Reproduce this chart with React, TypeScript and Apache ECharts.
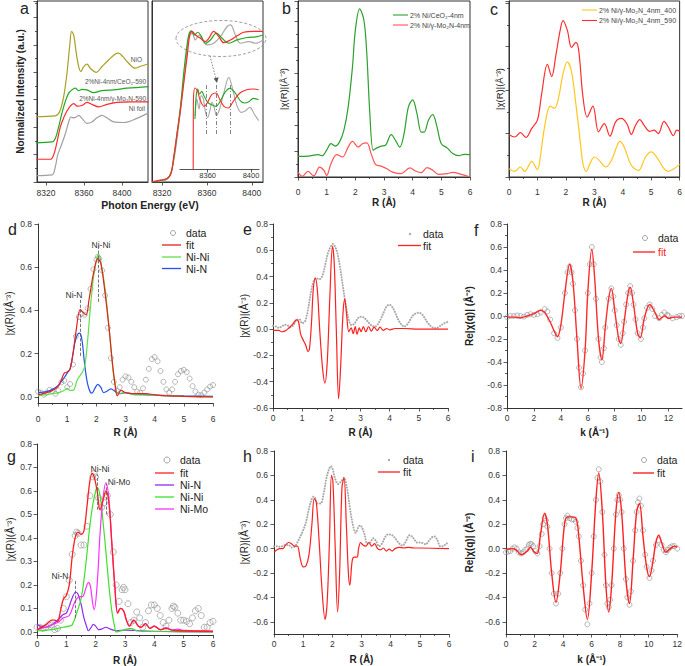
import React, { useEffect, useRef } from "react";
import * as echarts from "echarts";

const FONT = '"Liberation Sans", Arial, Helvetica, sans-serif';

// ---------- Panel a (XANES), left: energy (eV) vs normalized intensity (offset units)
const aNiO = [[8309.5,2.38],[8329.8,2.41],[8334.4,2.57],[8338.6,3.11],[8342.1,3.97],[8344.9,4.94],[8347,5.49],[8349.2,5.36],[8351.9,4.7],[8354.4,4.21],[8356.8,4.03],[8359.7,4.21],[8363.2,4.3],[8366.7,4.15],[8373,4.0],[8379,4.21],[8386,4.45],[8393,4.67],[8396.5,4.7],[8401,4.57],[8407,4.33],[8414,4.15],[8419,4.21],[8428,4.31]];
const aCeO2 = [[8309.5,1.43],[8326.3,1.46],[8329.8,1.59],[8333.4,2.02],[8336.8,2.51],[8340.3,2.93],[8343.9,3.24],[8347.4,3.36],[8350.8,3.42],[8354.4,3.33],[8357.9,3.38],[8363.2,3.36],[8370.2,3.26],[8379,3.33],[8391.3,3.36],[8405.3,3.42],[8428,3.48]];
const aMo2N = [[8309.5,0.83],[8324.5,0.83],[8328.1,0.99],[8331.6,1.46],[8335.1,2.01],[8338.6,2.34],[8342.1,2.59],[8345.6,2.77],[8349.2,2.86],[8352.6,2.77],[8357.9,2.79],[8363.2,2.9],[8368.4,2.83],[8375.5,2.74],[8384.2,2.83],[8394.7,2.9],[8408.7,2.92],[8428,2.92]];
const aFoil = [[8309.5,0.23],[8326.3,0.26],[8329.8,0.55],[8332.3,0.99],[8335.8,1.31],[8340.3,1.75],[8343.9,2.19],[8346.3,2.37],[8349.2,2.34],[8351.9,2.37],[8354.4,2.43],[8357.9,2.32],[8363.2,2.14],[8368.4,2.19],[8373.7,2.34],[8379,2.43],[8384.2,2.34],[8391.3,2.19],[8401.8,2.17],[8415.8,2.32],[8428,2.52]];
// Panel a, right: edge region
const aRCeO2 = [[8311,0.01],[8324.5,0.13],[8328,0.32],[8330.4,0.86],[8333.4,1.78],[8336.4,2.75],[8339.3,3.97],[8341.7,4.82],[8343.8,5.36],[8345.9,5.51],[8348.8,5.36],[8351.8,5.46],[8354.8,5.33],[8358.7,5.06],[8363.1,5.18],[8368.5,5.43],[8373.5,5.24],[8379.5,5.06],[8386.9,5.18],[8395.8,5.27],[8404.8,5.3],[8410,5.36]];
const aRMo2N = [[8311,0.01],[8318.5,0.07],[8324.5,0.13],[8328,0.32],[8330.4,0.92],[8333.4,1.78],[8336.4,2.63],[8339.3,3.6],[8342.3,4.57],[8344.7,5.36],[8346.8,5.49],[8349.7,5.36],[8354.2,5.24],[8358.7,5.12],[8361.6,5.24],[8366.1,5.49],[8370.6,5.3],[8375,5.08],[8381,5.18],[8386.9,5.33],[8392.9,5.46],[8401.8,5.49],[8410,5.49]];
const aRFoil = [[8311,0.01],[8324.5,0.1],[8330.4,0.8],[8336.4,2.63],[8340.8,4.21],[8343.8,5.24],[8346.8,5.43],[8349.7,5.18],[8352.9,5.36],[8355.9,5.18],[8360.4,5.0],[8366.1,5.06],[8372,5.3],[8378,5.67],[8381,5.73],[8385.4,5.36],[8389.9,5.06],[8397.3,5.12],[8403.3,5.06],[8410,5.18]];
// Panel a, inset (magnified oscillations)
const insetMo2N = [[8346.6,0],[8346.8,2.0],[8348.3,2.43],[8350.4,2.36],[8352.9,2.08],[8356.6,1.88],[8359.6,1.98],[8363.7,2.23],[8367.6,2.28],[8371.3,2.08],[8375,1.88],[8379,1.83],[8383.6,2.03],[8389.8,2.28],[8396,2.38],[8402.1,2.4],[8407.1,2.38]];
const insetCeO2 = [[8348.2,1.5],[8349.4,2.2],[8350.8,2.4],[8352.5,2.25],[8354.5,2.33],[8356.5,2.2],[8360,2.0],[8364,1.92],[8367.6,1.88],[8371,2.0],[8376,2.3],[8380.5,2.42],[8385,2.3],[8390,2.05],[8394,1.98],[8398,2.02],[8402,2.12],[8407,2.08]];
const insetFoil = [[8348.5,1.6],[8350,2.1],[8352,1.8],[8354,2.2],[8356,2.1],[8358,1.7],[8360,1.55],[8362,1.75],[8364,2.0],[8366,1.85],[8368,1.6],[8371,1.8],[8375,2.3],[8379.5,2.75],[8383,2.4],[8387,1.9],[8391,1.7],[8395,1.75],[8399,1.85],[8403,1.65],[8407,1.45]];
const insetMarks = [8358.7, 8367.6, 8380.6];
const aTicks = [8320, 8360, 8400];
const insetTicks = [8360, 8400];

// ---------- Panel b
const bCeO2 = [[0,0.79],[0.35,0.8],[0.7,0.86],[0.85,0.82],[1.0,1.03],[1.15,1.28],[1.3,1.19],[1.45,1.35],[1.6,1.79],[1.75,2.69],[1.9,4.23],[2.0,5.64],[2.15,6.47],[2.3,6.03],[2.4,4.74],[2.5,2.56],[2.62,1.03],[2.7,1.09],[2.9,1.19],[3.05,1.22],[3.25,1.63],[3.4,1.41],[3.55,1.15],[3.7,1.67],[3.85,2.69],[4.0,2.97],[4.15,2.44],[4.3,1.73],[4.4,1.73],[4.55,2.18],[4.7,2.4],[4.85,1.92],[5.0,1.28],[5.2,1.12],[5.4,0.9],[5.6,0.82],[5.8,0.87],[6.0,0.86]];
const bMo2N = [[0,0.19],[0.15,0.03],[0.35,0.22],[0.55,0.04],[0.75,0.38],[0.9,0.26],[1.0,0.06],[1.15,0.51],[1.35,0.86],[1.55,0.77],[1.75,1.15],[1.9,1.37],[2.1,1.15],[2.25,1.28],[2.4,1.31],[2.55,0.9],[2.7,0.49],[2.9,0.42],[3.1,0.32],[3.3,0.19],[3.6,0.13],[3.9,0.35],[4.1,0.23],[4.3,0.17],[4.5,0.36],[4.7,0.26],[4.9,0.1],[5.2,0.13],[5.4,0.18],[5.7,0.1],[6.0,0.0]];

// ---------- Panel c
const c400 = [[0,0.19],[0.2,0.13],[0.4,0.23],[0.55,0.13],[0.8,0.36],[1.0,0.17],[1.1,0.46],[1.25,1.15],[1.45,1.63],[1.6,1.58],[1.75,1.85],[1.9,2.38],[2.05,2.65],[2.2,2.42],[2.35,1.69],[2.5,0.85],[2.6,0.31],[2.72,0.13],[2.85,0.31],[3.0,0.46],[3.15,0.4],[3.4,0.23],[3.6,0.38],[3.8,0.72],[3.9,0.82],[4.05,0.69],[4.3,0.27],[4.55,0.15],[4.8,0.46],[5.0,0.58],[5.2,0.45],[5.45,0.19],[5.6,0.13],[5.8,0.19],[6.0,0.29]];
const c590 = [[0,0.98],[0.2,0.92],[0.4,1.02],[0.6,0.91],[0.8,1.12],[1.0,1.31],[1.15,1.92],[1.35,2.59],[1.5,2.31],[1.65,2.81],[1.8,3.38],[1.9,3.6],[2.05,3.38],[2.2,2.98],[2.35,3.1],[2.45,2.92],[2.6,1.85],[2.75,1.38],[2.95,1.63],[3.15,1.04],[3.35,1.23],[3.55,0.94],[3.75,1.27],[3.95,1.35],[4.15,1.22],[4.3,0.98],[4.45,1.19],[4.6,1.32],[4.75,1.19],[4.95,1.05],[5.1,1.08],[5.25,1.0],[5.45,1.28],[5.6,1.15],[5.78,0.95],[5.9,1.08],[6.0,1.05]];

// ---------- Panels d, e (Ni/CeO2)
const ceo2DataR = [[0,0.025],[0.1,0.02],[0.2,0.01],[0.3,0.02],[0.4,0.033],[0.5,0.028],[0.6,0.015],[0.7,0.03],[0.8,0.068],[0.9,0.075],[1.0,0.045],[1.1,0.06],[1.2,0.15],[1.3,0.28],[1.4,0.37],[1.5,0.385],[1.6,0.38],[1.7,0.41],[1.8,0.5],[1.9,0.59],[2.0,0.635],[2.05,0.648],[2.1,0.64],[2.2,0.585],[2.3,0.47],[2.4,0.32],[2.5,0.18],[2.6,0.07],[2.7,0.03],[2.8,0.045],[2.9,0.08],[3.0,0.095],[3.1,0.09],[3.2,0.07],[3.3,0.045],[3.4,0.025],[3.5,0.02],[3.6,0.04],[3.7,0.08],[3.8,0.13],[3.9,0.175],[4.0,0.185],[4.1,0.165],[4.2,0.12],[4.3,0.07],[4.4,0.035],[4.5,0.02],[4.6,0.035],[4.7,0.07],[4.8,0.105],[4.9,0.12],[5.0,0.125],[5.1,0.115],[5.2,0.085],[5.3,0.05],[5.4,0.025],[5.5,0.01],[5.6,0.008],[5.7,0.02],[5.8,0.035],[5.9,0.048],[6.0,0.055]];
const ceo2FitR = [[0,0.01],[0.3,0.02],[0.5,0.03],[0.7,0.05],[0.9,0.11],[1.0,0.115],[1.1,0.13],[1.2,0.2],[1.3,0.3],[1.45,0.405],[1.55,0.39],[1.65,0.38],[1.75,0.45],[1.9,0.57],[2.05,0.64],[2.15,0.62],[2.3,0.48],[2.45,0.3],[2.55,0.16],[2.65,0.05],[2.72,0.005],[2.85,0.03],[3.0,0.02],[3.2,0.015],[3.5,0.015],[3.7,0.015],[4.0,0.01],[4.5,0.005],[5.0,0.003],[6.0,0]];
const ceo2NiNi = [[0,0.005],[0.5,0.015],[0.7,0.02],[0.9,0.03],[1.0,0.04],[1.1,0.03],[1.2,0.03],[1.35,0.08],[1.5,0.11],[1.6,0.14],[1.7,0.26],[1.8,0.42],[1.9,0.55],[2.0,0.63],[2.07,0.66],[2.15,0.63],[2.3,0.5],[2.45,0.3],[2.55,0.15],[2.65,0.05],[2.75,0.015],[3.0,0.02],[3.3,0.01],[3.6,0.01],[4.0,0.008],[5.0,0.003],[6.0,0]];
const ceo2NiN = [[0,0.02],[0.3,0.025],[0.5,0.035],[0.7,0.055],[0.9,0.09],[1.0,0.11],[1.1,0.13],[1.2,0.2],[1.3,0.27],[1.42,0.295],[1.5,0.27],[1.6,0.15],[1.7,0.06],[1.8,0.02],[1.85,0.018],[1.95,0.04],[2.05,0.058],[2.15,0.045],[2.25,0.02],[2.35,0.025],[2.5,0.037],[2.65,0.025],[2.8,0.015],[3.0,0.02],[3.2,0.015],[3.5,0.012],[4.0,0.008],[5.0,0.005],[6.0,0.003]];
const ceo2FitReR = [[0,-0.01],[0.2,-0.01],[0.3,-0.02],[0.4,-0.015],[0.5,0],[0.6,0.02],[0.7,0.045],[0.8,0.07],[0.87,0.06],[0.95,-0.04],[1.05,-0.09],[1.12,-0.12],[1.2,-0.17],[1.25,-0.15],[1.32,0.05],[1.38,0.3],[1.45,0.39],[1.52,0.3],[1.6,0.0],[1.7,-0.3],[1.78,-0.41],[1.86,-0.25],[1.95,0.25],[2.04,0.63],[2.1,0.5],[2.17,0.0],[2.25,-0.53],[2.32,-0.28],[2.4,0.12],[2.46,0.23],[2.52,0.12],[2.6,-0.02],[2.68,0.01],[2.75,-0.035],[2.82,0.02],[2.88,-0.04],[2.96,0.01],[3.02,-0.02],[3.1,0.02],[3.18,-0.02],[3.28,0.02],[3.37,-0.015],[3.47,0.015],[3.57,-0.01],[3.67,0.015],[3.78,-0.01],[3.9,0.005],[4.0,-0.005],[4.2,0.005],[4.5,0.005],[5.0,0],[6.0,0]];
// Panel f
const ceo2DataK = [[0,-0.01],[0.25,0],[0.5,0],[0.75,0.005],[1,0],[1.25,-0.005],[1.5,0.01],[1.75,0.015],[2,0.01],[2.25,0.015],[2.5,0.03],[2.8,0.06],[3.0,0.04],[3.2,-0.03],[3.5,-0.15],[3.75,-0.19],[4.0,-0.1],[4.3,0.2],[4.5,0.38],[4.65,0.43],[4.8,0.38],[4.9,0.28],[5.05,0.05],[5.2,-0.2],[5.35,-0.45],[5.5,-0.62],[5.65,-0.5],[5.8,-0.3],[6.0,0.2],[6.15,0.45],[6.3,0.6],[6.45,0.45],[6.6,0.15],[6.8,-0.2],[6.95,-0.36],[7.05,-0.4],[7.2,-0.28],[7.3,-0.1],[7.55,0.15],[7.75,0.24],[7.9,0.17],[8.0,0.05],[8.15,-0.08],[8.3,-0.2],[8.45,-0.25],[8.6,-0.15],[8.7,-0.05],[8.85,0.1],[9.0,0.2],[9.15,0.26],[9.3,0.2],[9.4,0.1],[9.55,-0.03],[9.7,-0.15],[9.95,-0.2],[10.1,-0.1],[10.2,-0.02],[10.4,0.07],[10.6,0.1],[10.8,0.06],[11.0,0],[11.3,-0.02],[11.5,0.01],[11.7,0.03],[11.9,0.01],[12.0,0],[12.3,-0.02],[12.6,-0.01],[12.8,0],[13,0]];
const ceo2FitK = [[0,-0.01],[0.5,-0.01],[1,-0.015],[1.5,0],[2,0.02],[2.5,0.05],[2.8,0.03],[3.2,-0.05],[3.5,-0.13],[3.75,-0.18],[4.0,-0.08],[4.3,0.2],[4.65,0.45],[4.9,0.3],[5.2,-0.2],[5.5,-0.63],[5.8,-0.3],[6.0,0.2],[6.3,0.58],[6.5,0.35],[6.8,-0.2],[7.05,-0.38],[7.3,-0.1],[7.55,0.15],[7.75,0.24],[8.0,0.05],[8.3,-0.2],[8.45,-0.24],[8.7,-0.05],[9.0,0.2],[9.15,0.25],[9.4,0.1],[9.7,-0.15],[9.9,-0.19],[10.2,-0.02],[10.6,0.1],[11.0,0.03],[11.3,-0.03],[11.7,0],[12.0,-0.02],[12.4,-0.01],[13,-0.01]];

// ---------- Panels g, h, i (Ni/γ-Mo2N)
const mo2nDataR = [[0,0.02],[0.1,0.02],[0.2,0.015],[0.3,0.02],[0.4,0.03],[0.5,0.03],[0.6,0.01],[0.7,0.015],[0.8,0.05],[0.9,0.1],[1.0,0.15],[1.1,0.22],[1.2,0.33],[1.3,0.41],[1.35,0.425],[1.4,0.42],[1.5,0.37],[1.6,0.37],[1.7,0.45],[1.8,0.58],[1.9,0.66],[1.95,0.675],[2.0,0.66],[2.1,0.57],[2.2,0.53],[2.3,0.55],[2.4,0.58],[2.5,0.5],[2.6,0.34],[2.7,0.2],[2.8,0.13],[2.9,0.18],[2.95,0.19],[3.0,0.18],[3.1,0.12],[3.2,0.04],[3.3,0.05],[3.4,0.085],[3.5,0.06],[3.6,0.02],[3.7,0.04],[3.8,0.09],[3.9,0.115],[4.0,0.115],[4.1,0.1],[4.2,0.07],[4.3,0.04],[4.4,0.025],[4.5,0.05],[4.6,0.1],[4.65,0.11],[4.7,0.105],[4.8,0.08],[4.9,0.05],[5.0,0.05],[5.1,0.045],[5.2,0.035],[5.3,0.06],[5.4,0.09],[5.5,0.1],[5.6,0.07],[5.7,0.02],[5.8,0.02],[5.9,0.04],[6.0,0.045]];
const mo2nFitR = [[0,0.01],[0.3,0.03],[0.5,0.05],[0.6,0.05],[0.7,0.045],[0.8,0.09],[0.9,0.14],[1.0,0.155],[1.1,0.2],[1.2,0.32],[1.3,0.4],[1.4,0.425],[1.5,0.415],[1.6,0.43],[1.7,0.53],[1.8,0.64],[1.88,0.675],[1.95,0.66],[2.05,0.6],[2.15,0.52],[2.25,0.56],[2.35,0.6],[2.45,0.55],[2.55,0.38],[2.65,0.2],[2.75,0.08],[2.85,0.1],[2.95,0.09],[3.05,0.05],[3.15,0.025],[3.3,0.05],[3.45,0.025],[3.55,0.02],[3.7,0.035],[3.85,0.015],[4.0,0.025],[4.2,0.01],[4.4,0.015],[4.6,0.008],[5.0,0.005],[6.0,0.003]];
const mo2nNiN = [[0,0.03],[0.3,0.02],[0.5,0.03],[0.7,0.05],[0.9,0.075],[1.0,0.08],[1.1,0.11],[1.2,0.145],[1.32,0.17],[1.4,0.16],[1.5,0.12],[1.6,0.06],[1.7,0.02],[1.75,0.005],[1.85,0.02],[1.92,0.032],[2.0,0.025],[2.1,0.01],[2.2,0.012],[2.35,0.02],[2.5,0.012],[2.7,0.005],[3.0,0.008],[3.5,0.005],[4.0,0.003],[6.0,0]];
const mo2nNiNi = [[0,0.005],[0.5,0.01],[0.9,0.02],[1.1,0.025],[1.2,0.03],[1.35,0.08],[1.5,0.14],[1.6,0.22],[1.7,0.33],[1.8,0.45],[1.9,0.54],[2.0,0.6],[2.05,0.615],[2.15,0.58],[2.25,0.47],[2.35,0.34],[2.45,0.2],[2.55,0.09],[2.65,0.02],[2.7,0],[3.0,0.01],[3.2,0.015],[3.4,0.005],[4.0,0.002],[6.0,0]];
const mo2nNiMo = [[0,0.01],[0.3,0.02],[0.5,0.03],[0.7,0.04],[0.9,0.06],[1.1,0.07],[1.3,0.13],[1.45,0.15],[1.55,0.15],[1.65,0.18],[1.75,0.21],[1.82,0.195],[1.9,0.12],[1.95,0.095],[2.05,0.2],[2.15,0.42],[2.25,0.57],[2.35,0.635],[2.45,0.57],[2.55,0.38],[2.65,0.2],[2.75,0.08],[2.85,0.1],[2.95,0.09],[3.05,0.05],[3.15,0.025],[3.3,0.05],[3.45,0.025],[3.55,0.02],[3.7,0.035],[3.85,0.015],[4.0,0.025],[4.2,0.01],[4.4,0.018],[4.6,0.008],[4.8,0.012],[5.0,0.007],[6.0,0.003]];
const mo2nFitReR = [[0,-0.03],[0.1,-0.01],[0.2,0],[0.3,0],[0.4,0.03],[0.5,0.05],[0.6,0.04],[0.7,0.02],[0.8,0.02],[0.9,-0.08],[1.0,-0.15],[1.1,-0.14],[1.2,-0.05],[1.3,0.2],[1.38,0.41],[1.45,0.38],[1.55,0.05],[1.65,-0.35],[1.75,-0.58],[1.82,-0.45],[1.9,0.05],[1.97,0.6],[2.02,0.55],[2.1,0],[2.18,-0.52],[2.25,-0.2],[2.33,0.5],[2.4,0.58],[2.48,0.2],[2.55,-0.2],[2.6,-0.3],[2.68,-0.1],[2.75,-0.07],[2.85,-0.07],[2.9,0],[2.97,0.05],[3.05,0.03],[3.15,0.02],[3.25,0.05],[3.35,0.02],[3.45,0.04],[3.55,0],[3.65,-0.01],[3.75,0.005],[3.85,-0.02],[3.95,-0.005],[4.05,-0.02],[4.15,0],[4.3,0.01],[4.45,0.005],[4.6,0.01],[4.8,0.005],[5.0,0.005],[6.0,0]];
const mo2nDataK = [[0,-0.03],[0.15,-0.025],[0.3,-0.02],[0.45,0],[0.6,0.01],[0.75,0],[0.9,-0.03],[1.05,-0.04],[1.2,-0.03],[1.35,-0.01],[1.5,0],[1.6,0.03],[1.7,0.04],[1.8,0.035],[1.9,0.02],[2.05,-0.02],[2.2,-0.04],[2.35,0.02],[2.5,0.12],[2.6,0.2],[2.7,0.25],[2.8,0.23],[2.9,0.18],[3.05,0],[3.2,-0.2],[3.35,-0.37],[3.5,-0.45],[3.65,-0.37],[3.8,-0.2],[3.95,0],[4.1,0.2],[4.2,0.25],[4.3,0.27],[4.45,0.25],[4.6,0.24],[4.75,0.24],[4.9,0.22],[5.0,0.17],[5.1,0.1],[5.25,-0.1],[5.4,-0.3],[5.55,-0.5],[5.7,-0.62],[5.85,-0.45],[6.0,-0.2],[6.15,0.1],[6.3,0.4],[6.4,0.58],[6.5,0.65],[6.6,0.55],[6.75,0.3],[6.9,-0.05],[7.0,-0.3],[7.1,-0.45],[7.2,-0.48],[7.3,-0.42],[7.4,-0.3],[7.55,0],[7.7,0.28],[7.8,0.4],[7.9,0.44],[8.0,0.4],[8.1,0.3],[8.25,0],[8.4,-0.25],[8.5,-0.4],[8.65,-0.46],[8.75,-0.35],[8.9,-0.1],[9.05,0.15],[9.15,0.3],[9.25,0.38],[9.35,0.41],[9.45,0.35],[9.6,0.15],[9.75,-0.05],[9.85,-0.15],[10.05,-0.24],[10.2,-0.18],[10.3,-0.1],[10.5,0.03],[10.7,0.07],[10.9,0.03],[11.05,-0.01],[11.2,-0.03],[11.35,-0.01],[11.5,0.01],[11.65,0.02],[11.8,0.02],[12,0]];
const mo2nFitK = [[0,-0.005],[0.5,0],[0.7,-0.01],[1.1,-0.05],[1.5,-0.02],[1.7,0.01],[2.0,-0.03],[2.2,-0.04],[2.4,0.1],[2.7,0.29],[2.9,0.2],[3.2,-0.2],[3.5,-0.44],[3.8,-0.2],[4.1,0.2],[4.3,0.26],[4.6,0.26],[4.9,0.25],[5.1,0.1],[5.4,-0.3],[5.7,-0.58],[6.0,-0.2],[6.3,0.4],[6.5,0.62],[6.75,0.3],[7.0,-0.3],[7.2,-0.52],[7.4,-0.3],[7.7,0.3],[7.9,0.46],[8.1,0.3],[8.4,-0.25],[8.65,-0.45],[8.9,-0.1],[9.15,0.3],[9.35,0.37],[9.6,0.1],[9.85,-0.15],[10.05,-0.23],[10.3,-0.1],[10.5,0.05],[10.7,0.11],[10.9,0.05],[11.2,-0.03],[11.5,0],[11.8,0.02],[12,0.01]];

const kTicksF = [0, 2, 4, 6, 8, 10, 12];
const yTicksD = [0, 0.2, 0.4, 0.6, 0.8];
const yTicksG = [0, 0.1, 0.2, 0.3, 0.4, 0.5, 0.6, 0.7, 0.8];
const yTicksH = [-0.6, -0.4, -0.2, 0, 0.2, 0.4, 0.6, 0.8];

const grids = [
  { left: 37, top: 1, width: 111, height: 181, show: true, borderColor: "#333", borderWidth: 1 }, // a left
  { left: 152, top: 1, width: 111, height: 181, show: true, borderColor: "#333", borderWidth: 1 }, // a right
  { left: 180, top: 70, width: 79, height: 99 }, // a inset
  { left: 298, top: 1, width: 172, height: 176, show: true, borderColor: "#333", borderWidth: 1 }, // b
  { left: 509, top: 1, width: 173, height: 176, show: true, borderColor: "#333", borderWidth: 1 }, // c
  { left: 38, top: 224, width: 175, height: 179 }, // d
  { left: 273, top: 224, width: 175, height: 184 }, // e
  { left: 507, top: 224, width: 175, height: 184 }, // f
  { left: 37, top: 444, width: 176, height: 191 }, // g
  { left: 274, top: 451, width: 175, height: 183 }, // h
  { left: 506, top: 451, width: 175, height: 183 }, // i
];

function ax(gridIndex: number, min: number, max: number, o: any = {}) {
  const tickVals = o.ticks;
  const labelVals = o.labels ?? o.ticks;
  const tick: any = { show: o.tick !== false, length: 3.5, lineStyle: { color: "#333", width: 0.8 } };
  if (tickVals) tick.customValues = tickVals;
  const label: any = {
    show: o.label !== false, fontFamily: FONT, fontSize: o.labelSize ?? 8.5, color: "#333",
    margin: o.margin ?? 6, formatter: o.fmt ?? ((v: number) => String(v)),
  };
  if (labelVals) label.customValues = labelVals;
  const a: any = {
    type: "value", gridIndex, min, max,
    name: o.name ?? "", nameLocation: "middle", nameGap: o.nameGap ?? 20,
    nameTextStyle: { fontFamily: FONT, fontSize: o.nameSize ?? 10, fontWeight: o.nameBold ? "bold" : "normal", color: "#222" },
    splitLine: { show: false },
    axisLine: { show: o.line !== false, onZero: false, lineStyle: { color: o.lineColor ?? "#333", width: 1 } },
    axisTick: tick,
    minorTick: { show: !!o.minor, splitNumber: 2, length: 2, lineStyle: { color: "#333", width: 0.8 } },
    axisLabel: label,
  };
  if (o.interval !== undefined) a.interval = o.interval;
  if (o.nameRotate !== undefined) a.nameRotate = o.nameRotate;
  return a;
}

const f1 = (v: number) => v.toFixed(1);
const yName = "|χ(R)|(Å⁻³)";

const xAxes = [
  ax(0, 8310.5, 8427.5, { ticks: aTicks, margin: 6 }),
  ax(1, 8311, 8410, { ticks: aTicks, margin: 6 }),
  ax(2, 8334.4, 8407.4, { ticks: insetTicks, margin: 2, labelSize: 7.5, lineColor: "#555" }),
  ax(3, 0, 6, { interval: 1, minor: true, margin: 10, name: "R (Å)", nameBold: true, nameGap: 20 }),
  ax(4, 0, 6, { interval: 1, minor: true, margin: 10, name: "R (Å)", nameBold: true, nameGap: 20 }),
  ax(5, 0, 6, { interval: 1, minor: true, margin: 11, name: "R (Å)", nameBold: true, nameGap: 24 }),
  ax(6, 0, 6, { interval: 1, minor: true, margin: 5, name: "R (Å)", nameBold: true, nameGap: 19 }),
  ax(7, 0, 13, { ticks: kTicksF, margin: 5, name: "k (Å⁻¹)", nameBold: true, nameGap: 19 }),
  ax(8, 0, 6, { interval: 1, minor: true, margin: 4, name: "R (Å)", nameBold: true, nameGap: 20 }),
  ax(9, 0, 6, { interval: 1, minor: true, margin: 5, name: "R (Å)", nameBold: true, nameGap: 20 }),
  ax(10, 0, 12, { interval: 2, minor: true, margin: 5, name: "k (Å⁻¹)", nameBold: true, nameGap: 20 }),
];

const yAxes = [
  ax(0, 0, 6.6, { interval: 1, minor: true, label: false, name: "Normalized Intensity (a.u.)", nameBold: true, nameRotate: 90, nameGap: 12 }),
  ax(1, 0, 6.6, { tick: false, label: false }),
  ax(2, 0, 2.97, { tick: false, label: false, line: false }),
  ax(3, 0, 6.77, { interval: 1, minor: true, label: false, name: yName, nameRotate: 90, nameGap: 10, nameSize: 9.5 }),
  ax(4, 0, 4.05, { interval: 1, minor: true, label: false, name: yName, nameRotate: 90, nameGap: 5, nameSize: 9.5 }),
  ax(5, -0.028, 0.8, { ticks: yTicksD, fmt: f1, margin: 6, name: yName, nameRotate: 90, nameGap: 24 }),
  ax(6, -0.6, 0.8, { interval: 0.2, minor: true, fmt: f1, margin: 5, name: yName, nameRotate: 90, nameGap: 23 }),
  ax(7, -0.8, 0.8, { interval: 0.2, minor: true, fmt: f1, margin: 5, name: "Re|χ(q)| (Å⁻²)", nameBold: true, nameRotate: 90, nameGap: 33 }),
  ax(8, -0.013, 0.8, { ticks: yTicksG, fmt: f1, margin: 5, name: yName, nameRotate: 90, nameGap: 22 }),
  ax(9, -0.7, 0.8, { ticks: yTicksH, fmt: f1, margin: 6, name: yName, nameRotate: 90, nameGap: 22 }),
  ax(10, -0.7, 0.8, { ticks: yTicksH, fmt: f1, margin: 6, name: "Re|χ(q)| (Å⁻²)", nameBold: true, nameRotate: 90, nameGap: 32 }),
];

function line(g: number, data: number[][], color: string, width = 1.2, extra: any = {}) {
  return {
    type: "line", xAxisIndex: g, yAxisIndex: g, data, smooth: 0.35, showSymbol: false, symbol: "none",
    lineStyle: { color, width }, itemStyle: { color }, silent: true, clip: true, ...extra,
  };
}
function circles(g: number, data: number[][], size = 5) {
  return {
    type: "scatter", xAxisIndex: g, yAxisIndex: g, data, symbol: "circle", symbolSize: size, silent: true,
    itemStyle: { color: "rgba(0,0,0,0)", borderColor: "#8c8c8c", borderWidth: 0.8 },
  };
}
// measured data drawn as a dense dotted trace (panels e, h)
function dotted(g: number, data: number[][]) {
  return {
    type: "line", xAxisIndex: g, yAxisIndex: g, data, smooth: 0.35, showSymbol: false, symbol: "none", silent: true,
    lineStyle: { color: "#a8a8a8", width: 2, type: [0.1, 2.6], cap: "round" },
  };
}
function vmark(segs: number[][], dash: any = "dashed", color = "#555") {
  return {
    silent: true, symbol: ["none", "none"], animation: false,
    lineStyle: { type: dash, color, width: 0.8 }, label: { show: false },
    data: segs.map(([x, y1, y2]) => [{ coord: [x, y1] }, { coord: [x, y2] }]),
  };
}

const series: any[] = [
  // a left
  line(0, aFoil, "#a0a0a0"), line(0, aMo2N, "#ff2a2a"), line(0, aCeO2, "#1faa1f"), line(0, aNiO, "#a99f25"),
  // a right
  line(1, aRFoil, "#a8a8a8"), line(1, aRCeO2, "#1faa1f"), line(1, aRMo2N, "#ff2a2a"),
  // inset
  line(2, insetFoil, "#a8a8a8", 1.1),
  line(2, insetCeO2, "#1faa1f", 1.1),
  line(2, insetMo2N, "#ff2a2a", 1.1, { markLine: vmark(insetMarks.map((x) => [x, 1.05, 2.55]), [4, 2, 1, 2], "#666") }),
  // b
  line(3, bCeO2, "#2ca02c"), line(3, bMo2N, "#ff5555"),
  // c
  line(4, c400, "#ffc61e"), line(4, c590, "#ff2e2e"),
  // d
  circles(5, ceo2DataR, 5),
  line(5, ceo2NiN, "#2450f0"), line(5, ceo2NiNi, "#5ee04a"),
  line(5, ceo2FitR, "#e8201c", 1.2, { markLine: vmark([[2.07, 0.44, 0.7], [1.45, 0.19, 0.45]]) }),
  // e
  dotted(6, ceo2DataR), line(6, ceo2FitReR, "#ff2020"),
  // f
  circles(7, ceo2DataK, 5), line(7, ceo2FitK, "#ff2a2a", 1.4),
  // g
  circles(8, mo2nDataR, 6),
  line(8, mo2nNiN, "#8f2cf0"), line(8, mo2nNiNi, "#3ee02a"), line(8, mo2nNiMo, "#ff30ff"),
  line(8, mo2nFitR, "#ff1f1f", 1.3, { markLine: vmark([[2.07, 0.52, 0.67], [2.35, 0.5, 0.63], [1.32, 0.06, 0.22]]) }),
  // h
  dotted(9, mo2nDataR), line(9, mo2nFitReR, "#ff2020"),
  // i
  circles(10, mo2nDataK, 5), line(10, mo2nFitK, "#ff2020", 1.4),
];

function txt(x: number, y: number, text: string, o: any = {}) {
  return {
    type: "text", x, y, silent: true,
    style: {
      text, fill: o.fill ?? "#222", fontSize: o.size ?? 10, fontFamily: FONT, fontWeight: o.bold ? "bold" : "normal",
      align: o.align ?? "left", textAlign: o.align ?? "left", verticalAlign: "middle", textVerticalAlign: "middle",
    },
  };
}
function lg(x1: number, x2: number, y: number, color: string, w = 1.3) {
  return { type: "line", silent: true, shape: { x1, y1: y, x2, y2: y }, style: { stroke: color, lineWidth: w } };
}
function lgCircle(cx: number, cy: number, r = 2.5) {
  return { type: "circle", silent: true, shape: { cx, cy, r }, style: { fill: "none", stroke: "#8c8c8c", lineWidth: 0.8 } };
}
function lgDot(cx: number, cy: number) {
  return { type: "circle", silent: true, shape: { cx, cy, r: 1.2 }, style: { fill: "#a8a8a8" } };
}

const graphics: any[] = [
  // panel letters
  txt(20, 8, "a", { size: 16 }), txt(282, 8, "b", { size: 16 }), txt(490, 9, "c", { size: 16 }),
  txt(8, 229, "d", { size: 16 }), txt(243, 229, "e", { size: 16 }), txt(474, 230, "f", { size: 16 }),
  txt(7, 456, "g", { size: 16 }), txt(243, 456, "h", { size: 16 }), txt(471, 456, "i", { size: 16 }),
  // panel a
  txt(150, 205, "Photon Energy (eV)", { bold: true, size: 10.5, align: "center" }),
  txt(142, 59, "NiO", { size: 6.5, fill: "#555", align: "right" }),
  txt(146, 81.5, "2%Ni-4nm/CeO₂-590", { size: 6.5, fill: "#555", align: "right" }),
  txt(146, 98, "2%Ni-4nm/γ-Mo₂N-590", { size: 6.5, fill: "#555", align: "right" }),
  txt(145, 108, "Ni foil", { size: 6.5, fill: "#555", align: "right" }),
  { type: "ellipse", silent: true, shape: { cx: 221, cy: 38.5, rx: 45, ry: 18 }, style: { fill: "none", stroke: "#888", lineWidth: 0.8, lineDash: [3, 2] } },
  { type: "line", silent: true, shape: { x1: 210, y1: 56, x2: 216, y2: 79 }, style: { stroke: "#666", lineWidth: 0.8, lineDash: [1.5, 1.5] } },
  { type: "polygon", silent: true, shape: { points: [[213.6, 78.5], [218.6, 77.3], [217, 83]] }, style: { fill: "#555" } },
  // b legend
  lg(393, 408, 15, "#2ca02c", 1.1), txt(410, 15, "2% Ni/CeO₂-4nm", { size: 7, fill: "#444" }),
  lg(393, 408, 25, "#ff5555", 1.1), txt(410, 25, "2% Ni/γ-Mo₂N-4nm", { size: 7, fill: "#444" }),
  // c legend
  lg(582, 597, 10, "#ffc61e", 1.1), txt(599, 10, "2% Ni/γ-Mo₂N_4nm_400", { size: 7, fill: "#444" }),
  lg(582, 597, 20.5, "#ff2e2e", 1.1), txt(599, 20.5, "2% Ni/γ-Mo₂N_4nm_590", { size: 7, fill: "#444" }),
  // d legend
  lgCircle(173, 233), txt(186, 233, "data", { size: 10.5 }),
  lg(162, 181, 245, "#e8201c"), txt(186, 245, "fit", { size: 10.5 }),
  lg(162, 181, 257, "#5ee04a"), txt(186, 257, "Ni-Ni", { size: 10.5 }),
  lg(162, 181, 268.5, "#2450f0"), txt(186, 268.5, "Ni-N", { size: 10.5 }),
  txt(101, 245, "Ni-Ni", { size: 8.5, fill: "#333", align: "center" }),
  txt(74, 295, "Ni-N", { size: 8.5, fill: "#333", align: "center" }),
  // e legend
  lgDot(410, 234), txt(423, 234, "data", { size: 10.5 }),
  lg(398, 421, 245.5, "#ff2020"), txt(423, 245.5, "fit", { size: 10.5 }),
  // f legend
  lgCircle(645, 238), txt(658, 238, "data", { size: 10.5 }),
  lg(633, 655, 252, "#ff2a2a", 1.4), txt(658, 252, "fit", { size: 10.5, fill: "#ff2020" }),
  // g legend
  lgCircle(167, 460, 3), txt(180, 460, "data", { size: 10.5 }),
  lg(155, 174, 473, "#ff1f1f"), txt(180, 473, "fit", { size: 10.5 }),
  lg(155, 174, 485, "#8f2cf0"), txt(180, 485, "Ni-N", { size: 10.5 }),
  lg(155, 174, 497, "#3ee02a"), txt(180, 497, "Ni-Ni", { size: 10.5 }),
  lg(155, 174, 509, "#ff30ff"), txt(180, 509, "Ni-Mo", { size: 10.5 }),
  txt(100, 469, "Ni-Ni", { size: 8.5, fill: "#333", align: "center" }),
  txt(119, 482, "Ni-Mo", { size: 8.5, fill: "#333", align: "center" }),
  txt(60, 576, "Ni-N", { size: 8.5, fill: "#333", align: "center" }),
  // h legend
  lgDot(389, 460), txt(403, 460, "data", { size: 10.5 }),
  lg(378, 400, 472, "#ff2020"), txt(403, 472, "fit", { size: 10.5 }),
  // i legend
  lgCircle(644, 460), txt(657, 460, "data", { size: 10.5 }),
  lg(633, 654, 473, "#ff2020", 1.4), txt(657, 473, "fit", { size: 10.5 }),
];

function buildOption(): any {
  return {
    animation: false,
    backgroundColor: "#ffffff",
    textStyle: { fontFamily: FONT },
    grid: grids,
    xAxis: xAxes,
    yAxis: yAxes,
    series,
    graphic: { elements: graphics },
  };
}

export default function App() {
  const ref = useRef<HTMLDivElement>(null);
  useEffect(() => {
    const chart = echarts.init(ref.current!, undefined, { renderer: "svg", width: 685, height: 666 });
    chart.setOption(buildOption());
    return () => chart.dispose();
  }, []);
  return (
    <div
      ref={ref}
      style={{ position: "fixed", left: 0, top: 0, width: 685, height: 666, background: "#fff" }}
    />
  );
}
